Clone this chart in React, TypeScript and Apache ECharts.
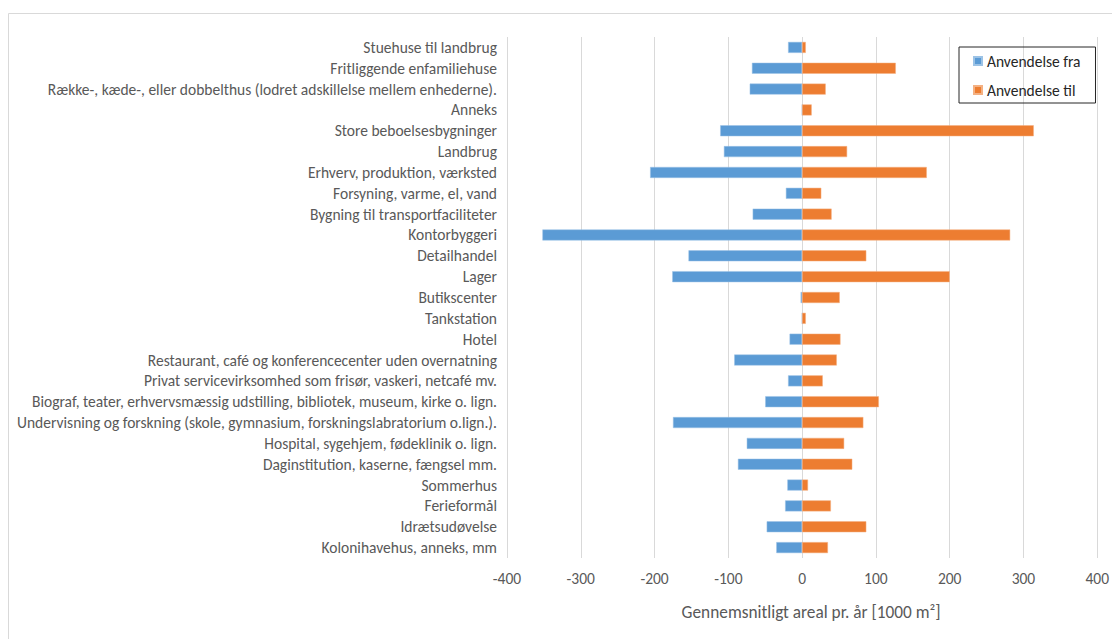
import React, { useEffect, useRef } from "react";
import * as echarts from "echarts";

const categories = [
  "Stuehuse til landbrug",
  "Fritliggende enfamiliehuse",
  "Række-, kæde-, eller dobbelthus (lodret adskillelse mellem enhederne).",
  "Anneks",
  "Store beboelsesbygninger",
  "Landbrug",
  "Erhverv, produktion, værksted",
  "Forsyning, varme, el, vand",
  "Bygning til transportfaciliteter",
  "Kontorbyggeri",
  "Detailhandel",
  "Lager",
  "Butikscenter",
  "Tankstation",
  "Hotel",
  "Restaurant, café og konferencecenter uden overnatning",
  "Privat servicevirksomhed som frisør, vaskeri, netcafé mv.",
  "Biograf, teater, erhvervsmæssig udstilling, bibliotek, museum, kirke o. lign.",
  "Undervisning og forskning (skole, gymnasium, forskningslabratorium o.lign.).",
  "Hospital, sygehjem, fødeklinik o. lign.",
  "Daginstitution, kaserne, fængsel mm.",
  "Sommerhus",
  "Ferieformål",
  "Idrætsudøvelse",
  "Kolonihavehus, anneks, mm",
];

const anvendelseFra = [
  -19, -68, -71, 0, -111, -106, -206, -22, -67, -352, -154, -176, -2, 0, -17,
  -92, -19, -50, -175, -75, -87, -20, -23, -48, -35,
];

const anvendelseTil = [
  5, 127, 32, 13, 314, 61, 169, 26, 40, 282, 87, 200, 51, 5, 52, 47, 28, 104,
  83, 57, 68, 8, 39, 87, 35,
];

const xTicks = { min: -400, max: 400, interval: 100 };

const FONT = "Carlito, 'Liberation Sans', Arial, sans-serif";

export default function App() {
  const ref = useRef<HTMLDivElement>(null);

  useEffect(() => {
    if (!ref.current) return;
    const chart = echarts.init(ref.current, null, { renderer: "svg" });
    chart.setOption({
      animation: false,
      backgroundColor: "#ffffff",
      textStyle: { fontFamily: FONT },
      grid: { left: 507, right: 9, top: 37, bottom: 81, containLabel: false },
      legend: {
        orient: "vertical",
        left: 959,
        top: 47,
        padding: [6, 15, 5, 14],
        itemGap: 13,
        itemWidth: 8,
        itemHeight: 8,
        icon: "rect",
        borderColor: "#262626",
        borderWidth: 1,
        textStyle: { fontSize: 15.5, color: "#262626", fontFamily: FONT },
        data: ["Anvendelse fra", "Anvendelse til"],
      },
      xAxis: {
        type: "value",
        min: xTicks.min,
        max: xTicks.max,
        interval: xTicks.interval,
        name: "Gennemsnitligt areal pr. år [1000 m²]",
        nameLocation: "middle",
        nameGap: 46,
        nameTextStyle: {
          fontSize: 17.3,
          color: "#595959",
          fontFamily: FONT,
          padding: [0, 0, 0, 18],
        },
        axisLine: { show: false },
        axisTick: { show: false },
        axisLabel: { fontSize: 15.5, color: "#595959", margin: 12, fontFamily: FONT },
        splitLine: { show: true, lineStyle: { color: "#d9d9d9", width: 1 } },
      },
      yAxis: {
        type: "category",
        inverse: true,
        data: categories,
        axisLine: { show: false },
        axisTick: { show: false },
        axisLabel: { fontSize: 15.5, color: "#595959", margin: 10, fontFamily: FONT },
        splitLine: { show: false },
      },
      graphic: [
        {
          type: "rect",
          shape: { x: 8.5, y: 13.5, width: 1120, height: 640 },
          style: { fill: "none", stroke: "#d9d9d9", lineWidth: 1 },
          silent: true,
        },
      ],
      series: [
        {
          name: "Anvendelse fra",
          type: "bar",
          stack: "total",
          data: anvendelseFra,
          barWidth: 11,
          itemStyle: { color: "#5B9BD5", borderColor: "#9cc3e6", borderWidth: 0.5 },
        },
        {
          name: "Anvendelse til",
          type: "bar",
          stack: "total",
          data: anvendelseTil,
          barWidth: 11,
          itemStyle: { color: "#ED7D31", borderColor: "#f4b183", borderWidth: 0.5 },
        },
      ],
    });
    return () => chart.dispose();
  }, []);

  return (
    <div
      ref={ref}
      style={{ position: "absolute", left: 0, top: 0, width: 1112, height: 639 }}
    />
  );
}
